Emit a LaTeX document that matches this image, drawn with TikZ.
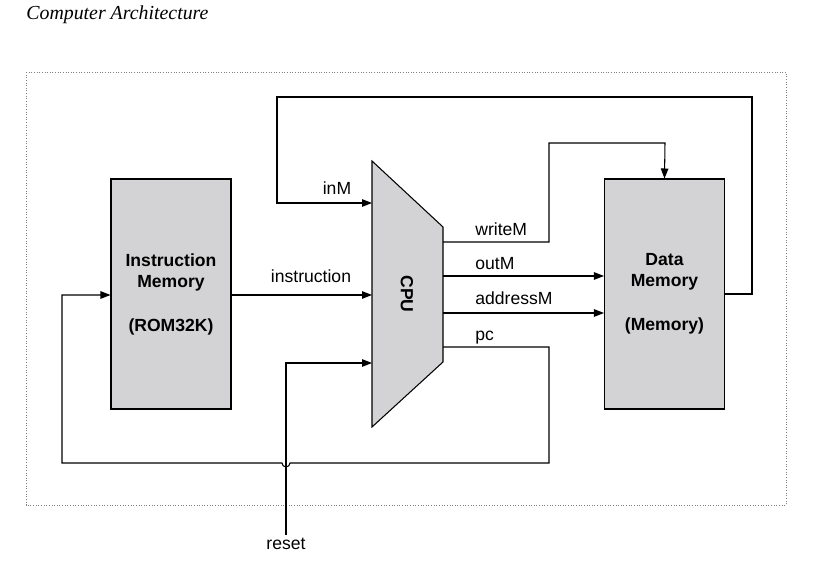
\documentclass[tikz,border=0pt]{standalone}
\usepackage{fontspec}
\setmainfont{Liberation Serif}
\setsansfont{Liberation Sans}
\usetikzlibrary{arrows.meta,positioning,calc}
\definecolor{boxgray}{RGB}{211,211,213}

\begin{document}
\begin{tikzpicture}[
  x=0.02cm,y=-0.02cm,
  mem/.style={draw, fill=boxgray, line width=0.6pt, minimum width=2.4cm, minimum height=4.6cm, align=center, font=\sffamily\bfseries\fontsize{10}{12}\selectfont},
  lbl/.style={font=\sffamily\fontsize{10}{12}\selectfont, inner sep=0pt},
  wire/.style={line width=0.6pt},
  arr/.style={-{Triangle[length=2mm,width=1.5mm]}, line width=0.6pt}
]
\useasboundingbox (0,0) rectangle (819,563);
\node[font=\itshape\fontsize{11.3}{13}\selectfont, anchor=west, inner sep=0pt] (title) at (26,15) {Computer Architecture};
\draw[densely dotted, gray, line width=0.5pt] (26,72) rectangle (786,505);

% memories
\node[mem] (IM) at (171,294) {Instruction\\Memory\\[1.3em](ROM32K)};
\node[mem] (DM) at (664.5,294) {Data\\Memory\\[1.3em](Memory)};

% cpu
\coordinate (cTL) at (372,161);
\coordinate (cTR) at (443,227);
\coordinate (cBR) at (443,362);
\coordinate (cBL) at (372,427);
\draw[wire, fill=boxgray] (cTL) -- (cTR) -- (cBR) -- (cBL) -- cycle;
\node[lbl, font=\sffamily\bfseries\fontsize{10}{12}\selectfont, rotate=-90] (cpu) at (407,294) {CPU};

% ports
\coordinate (inM) at (372,203);
\coordinate (ins) at (372,295);
\coordinate (rst) at (372,363);
\coordinate (wM) at (443,242);
\coordinate (oM) at (443,276);
\coordinate (aM) at (443,313);
\coordinate (pcO) at (443,347);
\coordinate (rsIn) at (286,535);

% wires
\draw[arr] (IM.east |- ins) -- (ins);
\draw[arr] (DM.east |- 0,294) -- (752,294) -- (752,97) -- (277,97) -- (277,203) -- (inM);
\draw[arr] (wM) -- (549,242) -- (549,143) -- (665,143) -- (DM.north);
\draw[arr] (oM) -- (oM -| DM.west);
\draw[arr] (aM) -- (aM -| DM.west);
\draw[arr] (pcO) -- (549,347) -- (549,463) -- (290,463) arc (0:180:4) -- (62,463) -- (62,295) -- (IM.west |- 0,295);
\draw[arr] (rsIn) -- (286,363) -- (rst);

% labels
\node[lbl, anchor=base] (linM) at (337,195) {inM};
\node[lbl, anchor=base] (lins) at (311,283) {instruction};
\node[lbl, anchor=base west] (lwM) at (475,236) {writeM};
\node[lbl, anchor=base west] (loM) at (475,270) {outM};
\node[lbl, anchor=base west] (laM) at (475,305) {addressM};
\node[lbl, anchor=base west] (lpc) at (475,341) {pc};
\node[lbl, anchor=base] (lrs) at (286,550) {reset};
\end{tikzpicture}
\end{document}
